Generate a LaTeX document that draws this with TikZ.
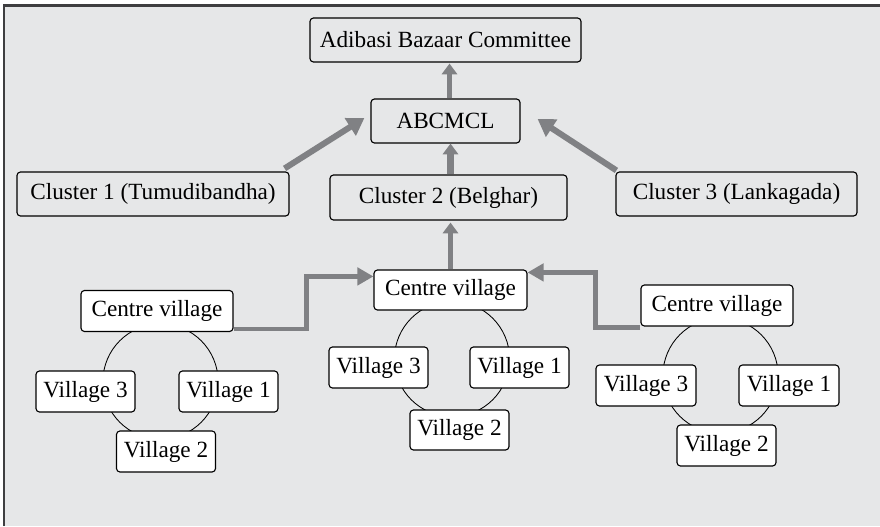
\documentclass[tikz,border=0pt]{standalone}
\usepackage{fontspec}
\setmainfont{Liberation Serif}
\usetikzlibrary{arrows.meta}

\definecolor{panel}{RGB}{230,231,232}
\definecolor{frameline}{RGB}{62,62,64}
\definecolor{linkgray}{RGB}{128,129,132}

\tikzset{
    box/.style={draw, line width=0.8pt, rounded corners=2.5pt, fill=panel,
        inner sep=0pt, minimum height=1.1cm, font=\fontsize{16.5}{19}\selectfont},
    vbox/.style={box, fill=white, minimum height=1.025cm},
    ring/.style={line width=0.6pt},
    uplink/.style={draw=linkgray, line width=4pt,
        -{Triangle[length=0.27cm, width=0.38cm]}},
    slant/.style={draw=linkgray, line width=4.3pt,
        -{Triangle[length=0.42cm, width=0.5cm]}},
    elbow/.style={draw=linkgray, line width=3.3pt,
        -{Triangle[length=0.4cm, width=0.43cm]}}
}

\begin{document}
\begin{tikzpicture}[x=0.025cm, y=-0.025cm]
    \useasboundingbox (0, 0) rectangle (880, 526);
    \fill[white] (0, 0) rectangle (880, 526);
    \fill[panel] (4, 5.5) rectangle (880, 526);
    \draw[frameline, line width=1.5pt] (4, 526) -- (4, 5.5) -- (880, 5.5);

    % village rings, under the boxes
    \draw[ring] (160.5, 381.5) circle (1.44cm);
    \draw[ring] (452, 359) circle (1.44cm);
    \draw[ring] (720.5, 375.5) circle (1.44cm);

    % top of the structure
    \node[box, minimum width=6.775cm] (abc) at (445.5, 40) {Adibasi Bazaar Committee};
    \node[box, minimum width=3.725cm] (abcmcl) at (445.5, 121) {ABCMCL};
    \node[box, minimum width=6.8cm] (cl1) at (153, 194) {Cluster 1 (Tumudibandha)};
    \node[box, minimum width=5.925cm, minimum height=1.125cm] (cl2) at (448.5, 197.5) {Cluster 2 (Belghar)};
    \node[box, minimum width=6.025cm] (cl3) at (736.5, 194) {Cluster 3 (Lankagada)};

    % left village group
    \node[vbox, minimum width=3.8cm] (cvl) at (157, 311) {Centre village};
    \node[vbox, minimum width=2.475cm] (vl3) at (85.5, 391.5) {Village 3};
    \node[vbox, minimum width=2.475cm] (vl1) at (228.5, 391.5) {Village 1};
    \node[vbox, minimum width=2.475cm] (vl2) at (166, 451.5) {Village 2};

    % middle village group
    \node[vbox, minimum width=3.825cm, minimum height=1cm] (cvm) at (450.5, 290) {Centre village};
    \node[vbox, minimum width=2.475cm] (vm3) at (378.5, 367.5) {Village 3};
    \node[vbox, minimum width=2.475cm] (vm1) at (519.5, 367.5) {Village 1};
    \node[vbox, minimum width=2.475cm, minimum height=1cm] (vm2) at (459.5, 430) {Village 2};

    % right village group
    \node[vbox, minimum width=3.8cm] (cvr) at (717, 305.5) {Centre village};
    \node[vbox, minimum width=2.5cm] (vr3) at (646, 385.5) {Village 3};
    \node[vbox, minimum width=2.5cm] (vr1) at (789, 385.5) {Village 1};
    \node[vbox, minimum width=2.475cm] (vr2) at (726.5, 445.5) {Village 2};

    % links upwards
    \draw[uplink] ([shift={(4, 0)}]abcmcl.north) -- ([shift={(4, 1)}]abc.south);
    \draw[uplink, line width=4.3pt] ([shift={(2, 0)}]cl2.north) -- ([shift={(5, 0)}]abcmcl.south);
    \draw[uplink, line width=3pt] (cvm.north) -- ([shift={(2, 2)}]cl2.south);
    \draw[slant] ([shift={(-5, -3)}]cl1.north east) -- ([shift={(-6, -3)}]abcmcl.west);
    \draw[slant] ([shift={(1, -1)}]cl3.north west) -- ([shift={(17, -2)}]abcmcl.east);
    \draw[elbow] ([shift={(0, -3)}]cvl.south east) -- ++(73, 0) |- ([shift={(0, 7)}]cvm.north west);
    \draw[elbow] ([shift={(0, 1)}]cvr.south west) -- ++(-45, 0) |- ([shift={(0, 3)}]cvm.north east);
\end{tikzpicture}
\end{document}
